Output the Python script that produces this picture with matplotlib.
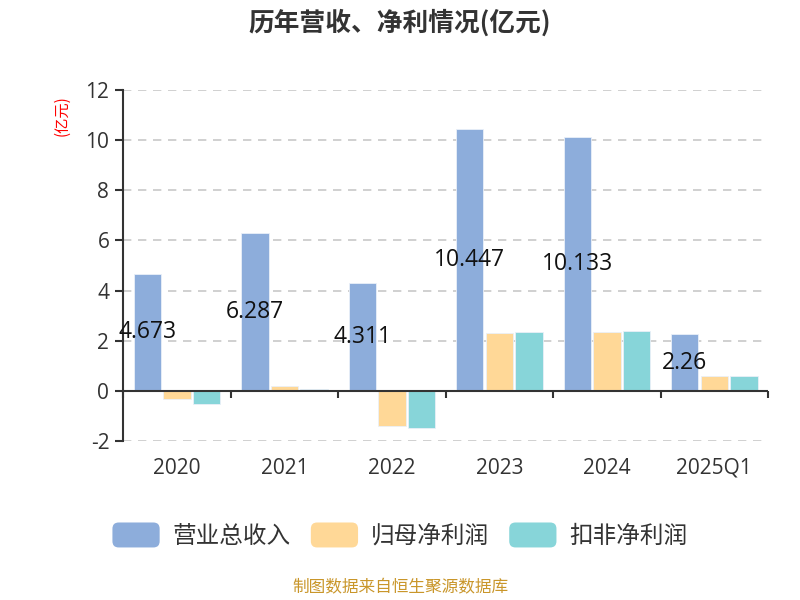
import matplotlib
matplotlib.use("Agg")
import matplotlib.pyplot as plt
import numpy as np
from matplotlib.patches import FancyBboxPatch
from matplotlib.legend_handler import HandlerPatch

plt.rcParams['font.family'] = ['Open Sans', 'Noto Sans CJK SC', 'DejaVu Sans']
CJK = ['Noto Sans CJK SC', 'DejaVu Sans']

categories = ['2020', '2021', '2022', '2023', '2024', '2025Q1']
revenue = [4.673, 6.287, 4.311, 10.447, 10.133, 2.26]
net_profit = [-0.34, 0.21, -1.40, 2.29, 2.36, 0.60]
deducted_profit = [-0.52, 0.09, -1.49, 2.35, 2.39, 0.58]
series_names = ['营业总收入', '归母净利润', '扣非净利润']
colors = ['#8DADDB', '#FFD897', '#87D5D9']
yticks = [-2, 0, 2, 4, 6, 8, 10, 12]

fig = plt.figure(figsize=(8, 6), dpi=100)
ax = fig.add_axes([0.154, 0.265, 0.806, 0.585])

x = np.arange(len(categories))
w = 0.255
offs = [-0.275, 0.0, 0.275]
bars = []
for vals, off, c, name in zip([revenue, net_profit, deducted_profit], offs, colors, series_names):
    b = ax.bar(x + off, vals, width=w, color=c, edgecolor='#EAF0F8', linewidth=0.6, label=name, zorder=3)
    bars.append(b)

# data labels at middle of revenue bars
for xi, v in zip(x, revenue):
    ax.text(xi + offs[0], v / 2, f'{v:g}', ha='center', va='center', fontsize=16.5, color='#111111', zorder=5)

ax.set_xlim(-0.5, len(categories) - 0.5)
ax.set_ylim(-2, 12)
ax.set_yticks(yticks)
ax.set_yticklabels([str(t) for t in yticks], fontsize=15, color='#333333')
ax.set_xticks(x)
ax.set_xticklabels(categories, fontsize=15, color='#333333')
ax.tick_params(axis='x', length=0, pad=12)
ax.tick_params(axis='y', length=6, width=1.5, color='#333333', pad=4)

for s in ['top', 'right', 'bottom']:
    ax.spines[s].set_visible(False)
ax.spines['left'].set_color('#333333')
ax.spines['left'].set_linewidth(1.5)

for t in yticks:
    if t != 0:
        ax.axhline(t, color='#C8C8C8', linestyle=(0, (5, 4)), linewidth=1.2, zorder=1)
ax.axhline(0, color='#333333', linewidth=1.5, zorder=4)
ax.vlines(np.arange(-0.5, len(categories)), -0.3, 0, color='#333333', linewidth=1.5, zorder=4, clip_on=False)

fig.text(0.5, 0.962, '历年营收、净利情况(亿元)', ha='center', va='center', fontsize=18.5, fontweight='bold',
         color='#333333', family=CJK)
fig.text(0.078, 0.808, '(亿元)', ha='center', va='center', rotation=90, fontsize=11, color='#FF0000', family=CJK)


class RoundHandler(HandlerPatch):
    def create_artists(self, legend, orig_handle, xdescent, ydescent, width, height, fontsize, trans):
        p = FancyBboxPatch((-xdescent, -ydescent), width, height,
                           boxstyle='round,pad=0,rounding_size=%f' % (height * 0.25),
                           facecolor=orig_handle.get_facecolor(), edgecolor='none', transform=trans)
        return [p]

handles = [b.patches[0] for b in bars]
leg = fig.legend(handles, series_names, loc='center', bbox_to_anchor=(0.5, 0.108), ncol=3, frameon=False,
                 prop={'family': CJK, 'size': 17}, handlelength=2.0, handleheight=1.25, handletextpad=0.55,
                 columnspacing=0.85, handler_map={p: RoundHandler() for p in handles})
for t in leg.get_texts():
    t.set_color('#333333')

fig.text(0.5, 0.02, '制图数据来自恒生聚源数据库', ha='center', va='center', fontsize=12, color='#C9962A', family=CJK)

fig.savefig('out.png', dpi=100)
